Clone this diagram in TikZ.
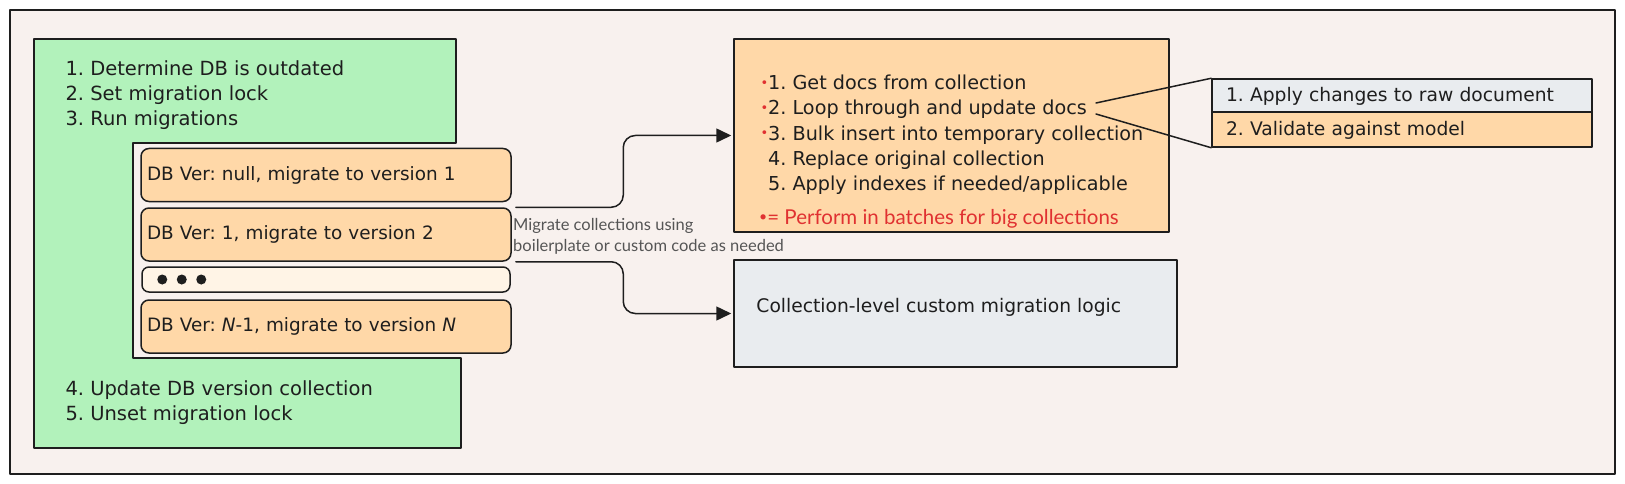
\documentclass[tikz,border=0pt]{standalone}
\usepackage{fontspec}
\usetikzlibrary{arrows.meta}
\newfontfamily\handfont{DejaVu Sans}
\newfontfamily\labelfont{Lato}
\definecolor{canvas}{HTML}{F8F1EE}
\definecolor{ink}{HTML}{1E1E1E}
\definecolor{mint}{HTML}{B2F2BB}
\definecolor{peach}{HTML}{FFD8A8}
\definecolor{cream}{HTML}{FFF4E6}
\definecolor{mist}{HTML}{E9ECEF}
\definecolor{redink}{HTML}{E03131}
\definecolor{labelgray}{HTML}{555555}
\frenchspacing
\newcommand{\batchdot}{\raisebox{2.5pt}{\textcolor{redink}{\fontsize{13}{13}\selectfont •}}}
\tikzset{
  hand/.style={font=\handfont\fontsize{18.7}{25.3}\selectfont, text=ink},
  box/.style={draw=ink, line width=1.5pt, inner sep=0pt},
  verbox/.style={box, hand, font=\handfont\fontsize{18.4}{25}\selectfont, rounded corners=8pt, fill=peach, minimum width=370pt, minimum height=53pt, text width=358pt, align=left},
  rowbox/.style={box, hand, minimum width=380pt, text width=352pt, align=left, text depth=3pt},
  flow/.style={->, draw=ink, line width=1.5pt, rounded corners=12pt, shorten <=4pt, shorten >=2pt}
}
\begin{document}
\begin{tikzpicture}[x=1pt, y=-1pt, line join=round, line cap=round, >={Triangle[length=15pt,width=14pt]}]
  \useasboundingbox (0,0) rectangle (1625,484);
  \fill[white] (0,0) rectangle (1625,484);
  \draw[fill=canvas, draw=ink, line width=1.5pt] (10,10) rectangle (1615,474);
  % migration runner
  \draw[box, fill=mint] (34,39) -- (456,39) -- (456,143) -- (133,143) -- (133,358) -- (461,358) -- (461,448) -- (34,448) -- cycle;
  \node[hand, font=\handfont\fontsize{19.5}{25}\selectfont, anchor=west, align=left] (todo) at (62,95) {1. Determine DB is outdated\\2. Set migration lock\\3. Run migrations};
  \node[hand, font=\handfont\fontsize{19.5}{25}\selectfont, anchor=west, align=left] (wrapup) at (62,402.5) {4. Update DB version collection\\5. Unset migration lock};
  \node[verbox] (v1) at (326,175) {DB Ver: null, migrate to version 1};
  \node[verbox] (v2) at (326,234.5) {DB Ver: 1, migrate to version 2};
  \node[box, rounded corners=7pt, fill=cream, minimum width=368pt, minimum height=25pt] (dots) at (326,279.5) {};
  \foreach \i in {0,1,2} \fill[ink] ([xshift=21pt+\i*19.5pt]dots.west) circle (5pt);
  \node[verbox] (vN) at (326,326.5) {DB Ver: \textit{N}-1, migrate to version \textit{N}};
  % collection level work
  \node[box, fill=peach, minimum width=435pt, minimum height=193pt] (steps) at (951.5,135.5) {};
  \node[hand, font=\handfont\fontsize{19.2}{25.3}\selectfont, anchor=west, align=left] (stepstxt) at (757,135) {\batchdot1. Get docs from collection\\\batchdot2. Loop through and update docs\\\batchdot3. Bulk insert into temporary collection\\\hphantom{\batchdot}4. Replace original collection\\\hphantom{\batchdot}5. Apply indexes if needed/applicable};
  \node[anchor=west, inner sep=0pt, font=\labelfont\fontsize{20.5}{22}\selectfont, text=redink] (note) at (759,219) {\raisebox{3pt}{\fontsize{14}{14}\selectfont •}= Perform in batches for big collections};
  \node[box, fill=mist, minimum width=443pt, minimum height=107pt] (custom) at (955.5,313.5) {};
  \node[hand, anchor=west, inner sep=0pt] (customtxt) at ([xshift=23pt,yshift=6.5pt]custom.west) {Collection-level custom migration logic};
  % per document
  \node[rowbox, fill=mist, minimum height=33pt] (apply) at (1402,95.5) {1. Apply changes to raw document};
  \node[rowbox, fill=peach, minimum height=35pt] (validate) at (1402,129.5) {2. Validate against model};
  \coordinate (loopup) at (1096,103);
  \coordinate (loopdown) at (1096,114);
  \draw[ink, line width=1.5pt] (loopup) -- (apply.north west);
  \draw[ink, line width=1.5pt] (loopdown) -- (validate.south west);
  % arrows
  \draw[flow] (v2.north east) -| ([xshift=-110pt]steps.west) -- (steps.west);
  \draw[flow] (v2.south east) -| ([xshift=-110pt]custom.west) -- (custom.west);
  \node[anchor=west, align=left, inner sep=0pt, font=\labelfont\fontsize{16.5}{21}\selectfont, text=labelgray] (mlabel) at (513,236.5) {Migrate collections using\\boilerplate or custom code as needed};
\end{tikzpicture}
\end{document}
